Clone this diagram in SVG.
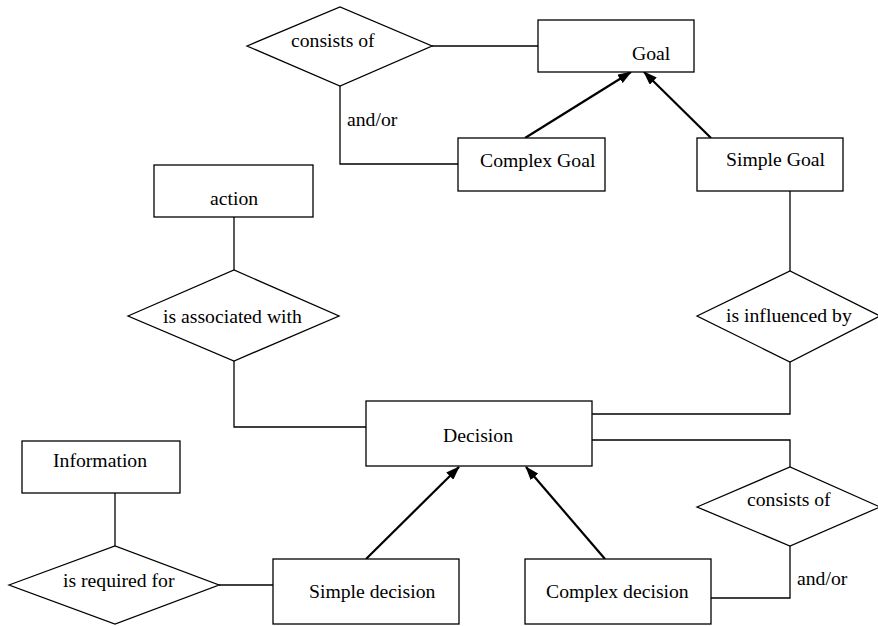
<svg xmlns="http://www.w3.org/2000/svg" width="878" height="626" viewBox="0 0 878 626">
<style>
.box{fill:#fff;stroke:#000;stroke-width:1.3}
.dia{fill:#fff;stroke:#000;stroke-width:1.3}
.ln{fill:none;stroke:#000;stroke-width:1.3}
.ar{fill:none;stroke:#000;stroke-width:2.2;marker-end:url(#ah)}
text{font-family:"Liberation Serif","Times New Roman",serif;font-size:19.7px;fill:#000}
</style>
<defs>
<marker id="ah" viewBox="0 0 14 10" refX="13" refY="5" markerWidth="14" markerHeight="10" markerUnits="userSpaceOnUse" orient="auto">
<path d="M0,0 L14,5 L0,10 Z" fill="#000"/>
</marker>
</defs>
<rect width="878" height="626" fill="#fff"/>
<g id="connectors">
<polyline class="ln" points="432,46 538,46"/>
<polyline class="ln" points="340,86 340,164 458,164"/>
<polyline class="ln" points="234,217 234,270"/>
<polyline class="ln" points="234,361 234,427 366,427"/>
<polyline class="ln" points="790,191 790,271"/>
<polyline class="ln" points="790,362 790,414 592,414"/>
<polyline class="ln" points="592,440 790,440 790,467"/>
<polyline class="ln" points="790,546 790,598 711,598"/>
<polyline class="ln" points="115,493 115,546"/>
<polyline class="ln" points="219,585 273,585"/>
<line class="ar" x1="525" y1="138" x2="631" y2="72"/>
<line class="ar" x1="711" y1="138" x2="644" y2="72"/>
<line class="ar" x1="366" y1="559" x2="459" y2="467"/>
<line class="ar" x1="605" y1="559" x2="526" y2="467"/>
<text x="347" y="126">and/or</text>
<text x="797" y="585">and/or</text>
</g>
<g id="consists-of-goal">
<polygon class="dia" points="247,46 340,7 432,46 340,86"/>
<text x="291" y="47">consists of</text>
</g>
<g id="goal">
<rect class="box" x="538" y="20" width="156" height="52"/>
<text x="632" y="60">Goal</text>
</g>
<g id="complex-goal">
<rect class="box" x="458" y="138" width="147" height="53"/>
<text x="480" y="167">Complex Goal</text>
</g>
<g id="simple-goal">
<rect class="box" x="697" y="138" width="146" height="53"/>
<text x="726" y="166">Simple Goal</text>
</g>
<g id="action">
<rect class="box" x="154" y="165" width="159" height="52"/>
<text x="210" y="205">action</text>
</g>
<g id="is-associated-with">
<polygon class="dia" points="128,316 234,270 339,316 234,361"/>
<text x="163" y="323">is associated with</text>
</g>
<g id="is-influenced-by">
<polygon class="dia" points="697,316 790,271 880,316 790,362"/>
<text x="726" y="322">is influenced by</text>
</g>
<g id="decision">
<rect class="box" x="366" y="401" width="226" height="65"/>
<text x="443" y="442">Decision</text>
</g>
<g id="information">
<rect class="box" x="22" y="441" width="158" height="52"/>
<text x="53" y="467">Information</text>
</g>
<g id="is-required-for">
<polygon class="dia" points="9,585 115,546 219,585 115,624"/>
<text x="63" y="587">is required for</text>
</g>
<g id="simple-decision">
<rect class="box" x="273" y="559" width="186" height="65"/>
<text x="309" y="598">Simple decision</text>
</g>
<g id="complex-decision">
<rect class="box" x="525" y="559" width="186" height="65"/>
<text x="546" y="598">Complex decision</text>
</g>
<g id="consists-of-decision">
<polygon class="dia" points="697,507 790,467 880,507 790,546"/>
<text x="747" y="506">consists of</text>
</g>
</svg>
